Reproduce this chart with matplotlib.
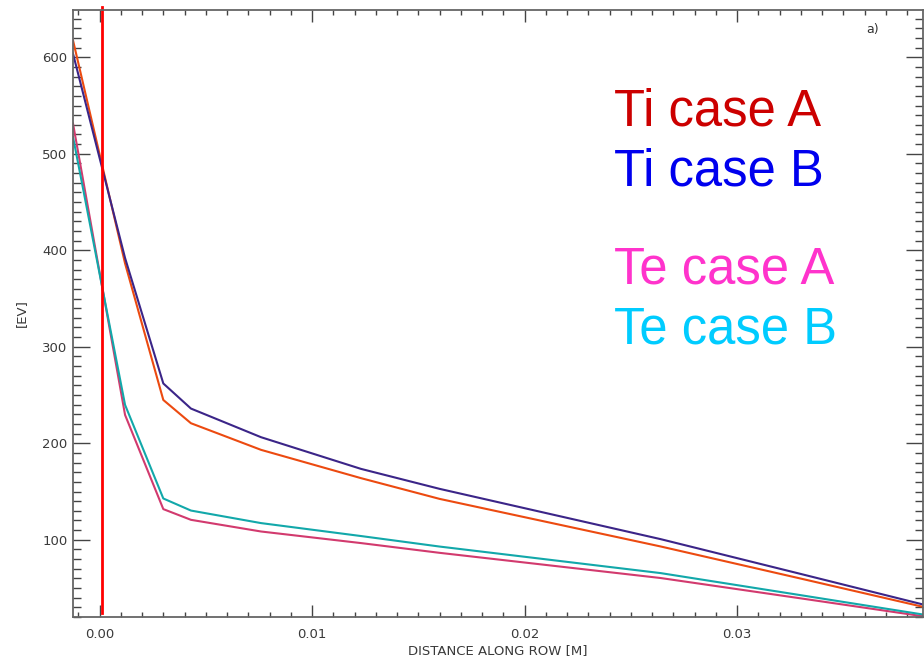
import matplotlib
matplotlib.use("Agg")
import matplotlib.pyplot as plt
from matplotlib.ticker import MultipleLocator, FormatStrFormatter

# Distance along the row [m]
distance = [-0.00125, 0.0012, 0.0030, 0.0043, 0.0076, 0.0123, 0.0160, 0.0264, 0.0330, 0.0388]

# Temperatures [eV]
ti_case_a = [617.6, 386.4, 244.9, 220.8, 193.2, 163.9, 142.4, 93.1, 59.8, 30.3]
ti_case_b = [603.8, 392.0, 262.0, 236.0, 206.3, 173.5, 152.8, 100.7, 64.6, 32.7]
te_case_a = [531.4, 229.4, 131.8, 120.7, 108.6, 96.6, 86.5, 60.4, 39.3, 20.6]
te_case_b = [517.5, 239.8, 142.8, 130.3, 117.3, 103.9, 93.0, 65.5, 42.6, 22.4]

separatrix_x = 0.0001

legend_labels = ["Ti case A", "Ti case B", "Te case A", "Te case B"]

fig = plt.figure(figsize=(9.24, 6.61), dpi=100)
ax = fig.add_axes([73 / 924, 1 - 617 / 661, 850 / 924, 607 / 661])

ax.plot(distance, ti_case_a, color="#ec4a10", lw=1.5)
ax.plot(distance, ti_case_b, color="#3b2588", lw=1.5)
ax.plot(distance, te_case_a, color="#d23a6e", lw=1.5)
ax.plot(distance, te_case_b, color="#12a8aa", lw=1.5)

ax.axvline(separatrix_x, ymin=0.006, ymax=1.005, color="#ff0000", lw=2.0, clip_on=False)

ax.set_xlim(-0.00125, 0.03875)
ax.set_ylim(20, 649)

ax.xaxis.set_major_locator(MultipleLocator(0.01))
ax.xaxis.set_minor_locator(MultipleLocator(0.001))
ax.xaxis.set_major_formatter(FormatStrFormatter("%.2f"))
ax.yaxis.set_major_locator(MultipleLocator(100))
ax.yaxis.set_minor_locator(MultipleLocator(10))

tick_col = "#444444"
ax.tick_params(axis="both", which="both", direction="in", top=True, right=True,
               color=tick_col, width=1.0, labelcolor="#3a3a3a", labelsize=9.5)
ax.tick_params(axis="y", which="major", length=12, pad=4)
ax.tick_params(axis="y", which="minor", length=5.8)
ax.tick_params(axis="x", which="major", length=8.6, pad=8)
ax.tick_params(axis="x", which="minor", length=3.8)

for sp in ax.spines.values():
    sp.set_color("#666666")
    sp.set_linewidth(1.3)

ax.set_xlabel("DISTANCE ALONG ROW [M]", fontsize=9.5, color="#3a3a3a", labelpad=2)
ax.set_ylabel("[EV]", fontsize=9.5, color="#3a3a3a", labelpad=10)

ax.text(0.933, 0.968, "a)", transform=ax.transAxes, fontsize=9, color="#333333",
        ha="left", va="center")

label_colors = ["#cc0000", "#0000ee", "#ff33cc", "#00ccff"]
label_baselines = [125, 186, 284, 344]
for txt, col, yb in zip(legend_labels, label_colors, label_baselines):
    fig.text(614 / 924, 1 - yb / 661, txt, color=col, fontsize=36.5,
             family="Liberation Sans", ha="left", va="baseline")

fig.savefig("out.png", dpi=100)
